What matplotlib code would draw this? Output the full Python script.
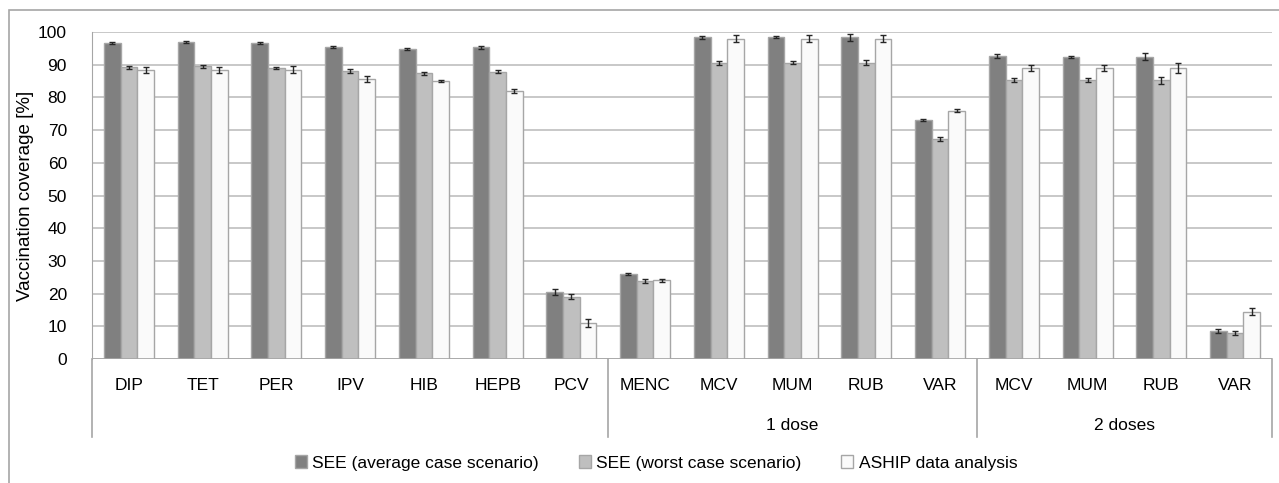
import numpy as np
import matplotlib
matplotlib.use("Agg")
import matplotlib.pyplot as plt
from matplotlib.lines import Line2D
from matplotlib.patches import Rectangle
import matplotlib.transforms as mtransforms

plt.rcParams['font.family'] = ['Liberation Sans', 'DejaVu Sans']

# dados
vacinas = ["DIP", "TET", "PER", "IPV", "HIB", "HEPB", "PCV", "MENC",
           "MCV", "MUM", "RUB", "VAR", "MCV", "MUM", "RUB", "VAR"]
grupos = ["", "1 dose", "2 doses"]
grupo_inicio = [0, 7, 12]

see_medio = [96.7, 96.9, 96.6, 95.5, 94.8, 95.3, 20.5, 26.1,
             98.4, 98.4, 98.4, 73.2, 92.6, 92.4, 92.4, 8.6]
see_medio_err = [0.3, 0.4, 0.4, 0.3, 0.2, 0.4, 1.0, 0.3,
                 0.5, 0.3, 1.0, 0.3, 0.7, 0.3, 1.1, 0.7]
see_pior = [89.2, 89.5, 89.0, 88.1, 87.4, 87.9, 19.0, 23.9,
            90.6, 90.6, 90.6, 67.3, 85.3, 85.3, 85.2, 8.0]
see_pior_err = [0.5, 0.5, 0.4, 0.6, 0.5, 0.5, 0.8, 0.7,
                0.6, 0.5, 0.7, 0.6, 0.7, 0.5, 1.0, 0.6]
aship = [88.4, 88.5, 88.5, 85.6, 85.0, 81.9, 11.0, 24.1,
         97.9, 97.9, 97.9, 75.9, 89.0, 89.0, 88.9, 14.5]
aship_err = [0.8, 0.9, 1.0, 0.9, 0.3, 0.7, 1.3, 0.5,
             1.1, 1.1, 1.1, 0.5, 1.0, 1.0, 1.5, 1.0]

series = [("SEE (average case scenario)", see_medio, see_medio_err, "#808080"),
          ("SEE (worst case scenario)", see_pior, see_pior_err, "#BFBFBF"),
          ("ASHIP data analysis", aship, aship_err, "#FAFAFA")]

fig = plt.figure(figsize=(12.79, 4.83), dpi=100)
ax = fig.add_axes([92/1279, 1 - 359/483, 1180/1279, 327/483])

# moldura externa do grafico (estilo excel)
fig.patches.append(Rectangle((9/1279, -0.01), 1.1, 1 - 10/483 + 0.01,
                             transform=fig.transFigure, fill=False,
                             edgecolor="#A6A6A6", linewidth=1.2))

n = len(vacinas)
x = np.arange(n)
largura = 1 / (3 + 1.42)
for i, (nome, vals, errs, cor) in enumerate(series):
    pos = x + (i - 1) * largura
    ax.bar(pos, vals, largura, color=cor, edgecolor="#A6A6A6", linewidth=1.0,
           label=nome, zorder=3)
    ax.errorbar(pos, vals, yerr=errs, fmt="none", ecolor="#262626",
                elinewidth=1.0, capsize=2.5, capthick=1.0, zorder=4)

ax.set_xlim(-0.5, n - 0.5)
ax.set_ylim(0, 100)
ax.set_yticks(range(0, 101, 10))
ax.tick_params(axis="y", length=0, labelsize=12.5, pad=18, colors="#000000")
ax.set_xticks([])
ax.yaxis.grid(True, color="#BFBFBF", linewidth=1.2, zorder=0)
ax.set_axisbelow(True)
for lado in ["top", "right", "bottom"]:
    ax.spines[lado].set_visible(False)
ax.spines["left"].set_color("#A6A6A6")
ax.axhline(0, color="#A6A6A6", linewidth=1.2, zorder=5)
ax.set_ylabel("Vaccination coverage [%]", fontsize=13.5, labelpad=3)

# rotulos de categoria em dois niveis
trans = mtransforms.blended_transform_factory(ax.transData, ax.transAxes)
for i, v in enumerate(vacinas):
    ax.text(i, -26/327, v, transform=trans, ha="center", va="center", fontsize=12.5)
fundo = -78/327
limites = grupo_inicio + [n]
for k, g in enumerate(grupos):
    centro = (limites[k] + limites[k + 1] - 1) / 2
    ax.text(centro, -66/327, g, transform=trans, ha="center", va="center", fontsize=12.5)
for b in limites:
    ax.add_line(Line2D([b - 0.5, b - 0.5], [0, fundo], transform=trans,
                       color="#A6A6A6", linewidth=1.2, clip_on=False))

ax.legend(loc="center", bbox_to_anchor=((656 - 92) / 1180, -104/327), ncol=3,
          frameon=False, fontsize=12.5, handlelength=0.7, handleheight=0.7,
          handletextpad=0.3, columnspacing=2.3)

fig.savefig("out.png", dpi=100)
